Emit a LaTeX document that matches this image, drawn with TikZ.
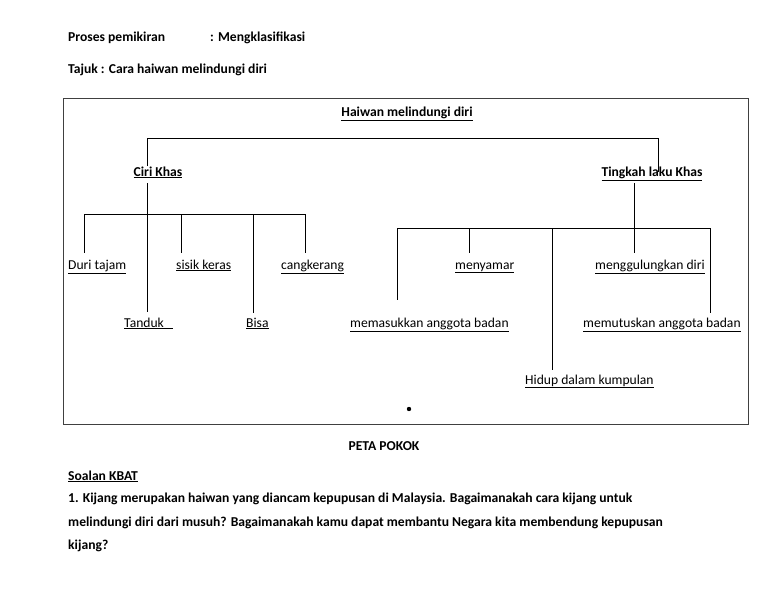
\documentclass[tikz,border=0pt]{standalone}
\usepackage{fontspec}
\setmainfont{Carlito}
\usetikzlibrary{calc}
\begin{document}
\begin{tikzpicture}[x=1pt,y=-1pt,
  lbl/.style={inner sep=0pt,font=\fontsize{13.6}{16}\selectfont},
  blbl/.style={lbl,font=\fontsize{13.6}{16}\selectfont\bfseries},
  ln/.style={line width=0.9pt}]
\useasboundingbox (0,0) rectangle (768,594);
% header
\node[blbl,anchor=base west] (proses) at (68,42) {Proses pemikiran};
\node[blbl,anchor=base west] (mengk) at (210,42) {: Mengklasifikasi};
\node[blbl,anchor=base west] (tajuk) at (68,74) {Tajuk : Cara haiwan melindungi diri};
% frame
\draw[line width=0.7pt,black!75] (63,98) rectangle (748,424);
% nodes
\node[blbl,anchor=base] (root) at (407,116) {\underline{Haiwan melindungi diri}};
\node[blbl,anchor=base] (ciri) at (158,176) {\underline{Ciri Khas}};
\node[blbl,anchor=base] (tingkah) at (652,176) {\underline{Tingkah laku Khas}};
\node[lbl,anchor=base west] (duri) at (68,269) {\underline{Duri tajam}};
\node[lbl,anchor=base west] (sisik) at (176,269) {\underline{sisik keras}};
\node[lbl,anchor=base west] (cang) at (281,269) {\underline{cangkerang}};
\node[lbl,anchor=base west] (tanduk) at (124,327) {\underline{Tanduk\ \ \ }};
\node[lbl,anchor=base west] (bisa) at (246,327) {\underline{Bisa}};
\node[lbl,anchor=base west] (memas) at (350,327) {\underline{memasukkan anggota badan}};
\node[lbl,anchor=base west] (menya) at (455,269) {\underline{menyamar}};
\node[lbl,anchor=base west] (mengg) at (595,269) {\underline{menggulungkan diri}};
\node[lbl,anchor=base west] (memut) at (583,327) {\underline{memutuskan anggota badan}};
\node[lbl,anchor=base west] (hidup) at (525,384) {\underline{Hidup dalam kumpulan}};
\fill (409,409) circle (2.2pt);
% connectors
\coordinate (tL) at (147,138);
\coordinate (tR) at (658,138);
\draw[ln] (tL |- ciri.north) -- (tL) -- (tR) -- ($(tR |- tingkah.north)+(0,6)$);
\coordinate (aL) at (84,214);
\coordinate (aR) at (305,214);
\draw[ln] (aL) -- (aR);
\draw[ln] (147,183) -- (147,312);
\draw[ln] (aL) -- (84,253);
\draw[ln] (181,214) -- (181,253);
\draw[ln] (253,214) -- (253,313);
\draw[ln] (aR) -- (305,253);
\coordinate (bL) at (397,228);
\coordinate (bR) at (710,228);
\draw[ln] (bL) -- (bR);
\draw[ln] (634,183) -- (634,253);
\draw[ln] (bL) -- (397,300);
\draw[ln] (469,228) -- (469,253);
\draw[ln] (552,228) -- (552,370);
\draw[ln] (bR) -- (710,313);
% footer
\node[blbl,anchor=base] (peta) at (384,450) {PETA POKOK};
\node[blbl,anchor=base west] (soalan) at (68,480) {\underline{Soalan KBAT}};
\node[blbl,anchor=base west] (q1) at (68,502) {1. Kijang merupakan haiwan yang diancam kepupusan di Malaysia. Bagaimanakah cara kijang untuk};
\node[blbl,anchor=base west] (q2) at (68,526) {melindungi diri dari musuh? Bagaimanakah kamu dapat membantu Negara kita membendung kepupusan};
\node[blbl,anchor=base west] (q3) at (68,549) {kijang?};
\end{tikzpicture}
\end{document}
